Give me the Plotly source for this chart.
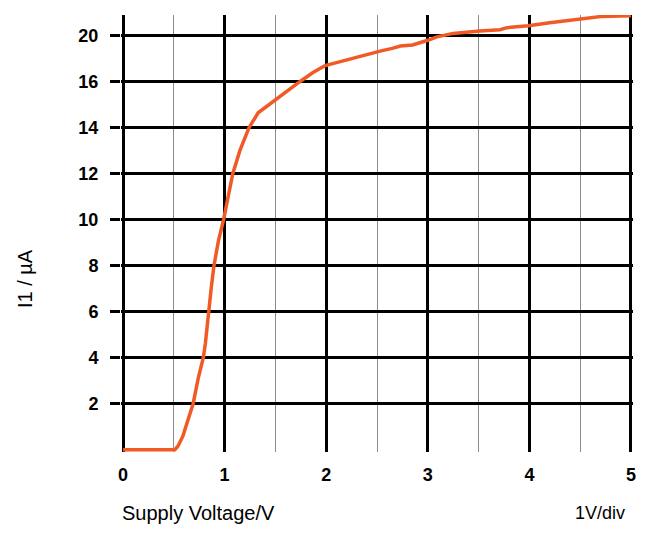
import plotly.graph_objects as go

# Data
voltage = [0, 0.51, 0.54, 0.59, 0.64, 0.69, 0.74, 0.79, 0.81, 0.84, 0.87, 0.895,
           0.94, 0.99, 1.035, 1.08, 1.15, 1.24, 1.33, 1.42, 1.50, 1.62, 1.74, 1.87,
           1.99, 2.12, 2.25, 2.37, 2.48, 2.55, 2.65, 2.73, 2.85, 2.94, 3.0, 3.09,
           3.25, 3.51, 3.71, 3.78, 3.99, 4.2, 4.5, 4.7, 5.0]
current = [0, 0, 0.15, 0.6, 1.3, 2.0, 3.1, 4.0, 4.6, 6.0, 7.1, 8.0,
           9.1, 10.0, 11.0, 12.0, 13.0, 14.0, 14.65, 14.95, 15.2, 15.6, 16.0, 16.4,
           16.7, 16.85, 17.0, 17.15, 17.3, 17.35, 17.45, 17.55, 17.6, 17.7, 17.8, 17.95,
           18.1, 18.2, 18.26, 18.35, 18.43, 18.56, 18.7, 18.83, 18.87]
x_ticks = [0, 1, 2, 3, 4, 5]
y_tickvals = [2, 4, 6, 8, 10, 12, 14, 16, 18]
y_ticktext = ["2", "4", "6", "8", "10", "12", "14", "16", "20"]

L, R, T, B = 121, 37, 15, 98
W, H = 670 - L - R, 550 - T - B

def px(xp):
    return (xp - L) / W

def py(yp):
    return 1 - (yp - T) / H

font = "Liberation Sans, Arial, sans-serif"

fig = go.Figure()
fig.add_trace(go.Scatter(x=voltage, y=current, mode="lines",
                         line=dict(color="#F15A24", width=3.5),
                         hoverinfo="skip", cliponaxis=False))

fig.update_layout(
    width=670, height=550,
    margin=dict(l=L, r=R, t=T, b=B),
    paper_bgcolor="white", plot_bgcolor="white",
    showlegend=False,
    font=dict(family=font, color="black"),
    xaxis=dict(range=[-0.02, 5.02], tickvals=x_ticks, ticktext=[str(v) for v in x_ticks],
               showgrid=True, gridcolor="black", gridwidth=2.5, zeroline=False,
               showline=False, ticks="", ticklabelstandoff=10,
               tickfont=dict(size=18, weight="bold", family=font, color="black"),
               minor=dict(dtick=0.5, tick0=0, showgrid=True, gridcolor="#8c8c8c", gridwidth=1),
               fixedrange=True),
    yaxis=dict(range=[-0.1, 18.9], tickvals=y_tickvals, ticktext=y_ticktext,
               showgrid=True, gridcolor="black", gridwidth=2.5, zeroline=False,
               showline=False, ticks="outside", ticklen=10, tickwidth=2.5, tickcolor="black",
               ticklabelstandoff=8,
               tickfont=dict(size=18, weight="bold", family=font, color="black"),
               fixedrange=True),
    annotations=[
        dict(text="Supply Voltage/V", xref="paper", yref="paper", x=px(120), y=py(513),
             xanchor="left", yanchor="middle", showarrow=False,
             font=dict(size=20, family=font, color="black")),
        dict(text="1V/div", xref="paper", yref="paper", x=px(627), y=py(513),
             xanchor="right", yanchor="middle", showarrow=False,
             font=dict(size=18, family=font, color="black")),
        dict(text="I1 / µA", xref="paper", yref="paper", x=px(25), y=py(279),
             xanchor="center", yanchor="middle", showarrow=False, textangle=-90,
             font=dict(size=20, family=font, color="black")),
    ],
)

fig.write_html("out.html")
